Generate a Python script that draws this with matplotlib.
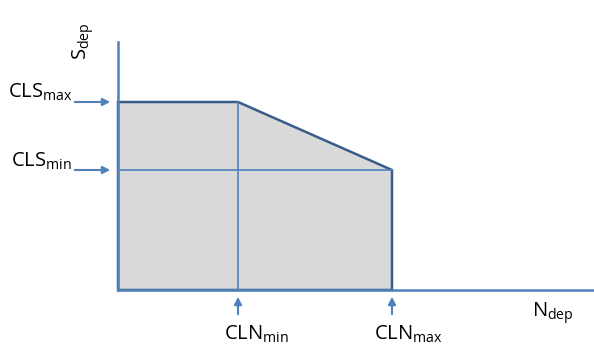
import matplotlib.pyplot as plt
from matplotlib.patches import Polygon

plt.rcParams['font.family'] = 'Open Sans'
plt.rcParams['mathtext.fontset'] = 'custom'
plt.rcParams['mathtext.rm'] = 'Open Sans'

# threshold values (arbitrary units, 1 unit = 1 px)
cln_min, cln_max = 120, 274
cls_min, cls_max = 120, 188
n_end = 476           # extent of the N_dep axis
s_end = 248           # extent of the S_dep axis

# region boundary: N_dep -> S_dep
region_n = [0, 0, cln_min, cln_max, cln_max]
region_s = [0, cls_max, cls_max, cls_min, 0]

blue = '#4f81bd'
edge = '#385d8a'

fig = plt.figure(figsize=(5.94, 3.44), dpi=100)
ax = fig.add_axes([0, 0, 1, 1])
ax.set_xlim(-118, 476)
ax.set_ylim(-54, 290)
ax.axis('off')

ax.add_patch(Polygon(list(zip(region_n, region_s)), closed=True,
                     facecolor='#d9d9d9', edgecolor=edge, lw=1.8, zorder=1))

# inner guide lines
ax.plot([cln_min, cln_min], [0, cls_max], color=blue, lw=1.2, zorder=2)
ax.plot([0, cln_max], [cls_min, cls_min], color=blue, lw=1.2, zorder=2)

# axes
ax.plot([0, n_end], [0, 0], color=blue, lw=1.8, zorder=3)
ax.plot([0, 0], [0, s_end], color=blue, lw=1.8, zorder=3)

arr = dict(arrowstyle='-|>', color=blue, lw=1.5, mutation_scale=11)
for v in [cls_max, cls_min]:
    ax.annotate('', xy=(-5, v), xytext=(-46, v), arrowprops=arr)
for v in [cln_min, cln_max]:
    ax.annotate('', xy=(v, -4), xytext=(v, -27), arrowprops=arr)

fs = 14.5
ax.text(-46, cls_max + 4, r'$\mathrm{CLS_{max}}$', fontsize=fs, ha='right', va='baseline')
ax.text(-46, cls_min + 3, r'$\mathrm{CLS_{min}}$', fontsize=fs, ha='right', va='baseline')
ax.text(cln_min - 14, -50, r'$\mathrm{CLN_{min}}$', fontsize=fs, ha='left', va='baseline')
ax.text(cln_max - 18, -50, r'$\mathrm{CLN_{max}}$', fontsize=fs, ha='left', va='baseline')
ax.text(414, -27, r'$\mathrm{N_{dep}}$', fontsize=fs, ha='left', va='baseline')
ax.text(-31, 230, r'$\mathrm{S_{dep}}$', fontsize=fs, ha='left', va='baseline',
        rotation=90, rotation_mode='anchor')

fig.savefig('out.png', dpi=100)
